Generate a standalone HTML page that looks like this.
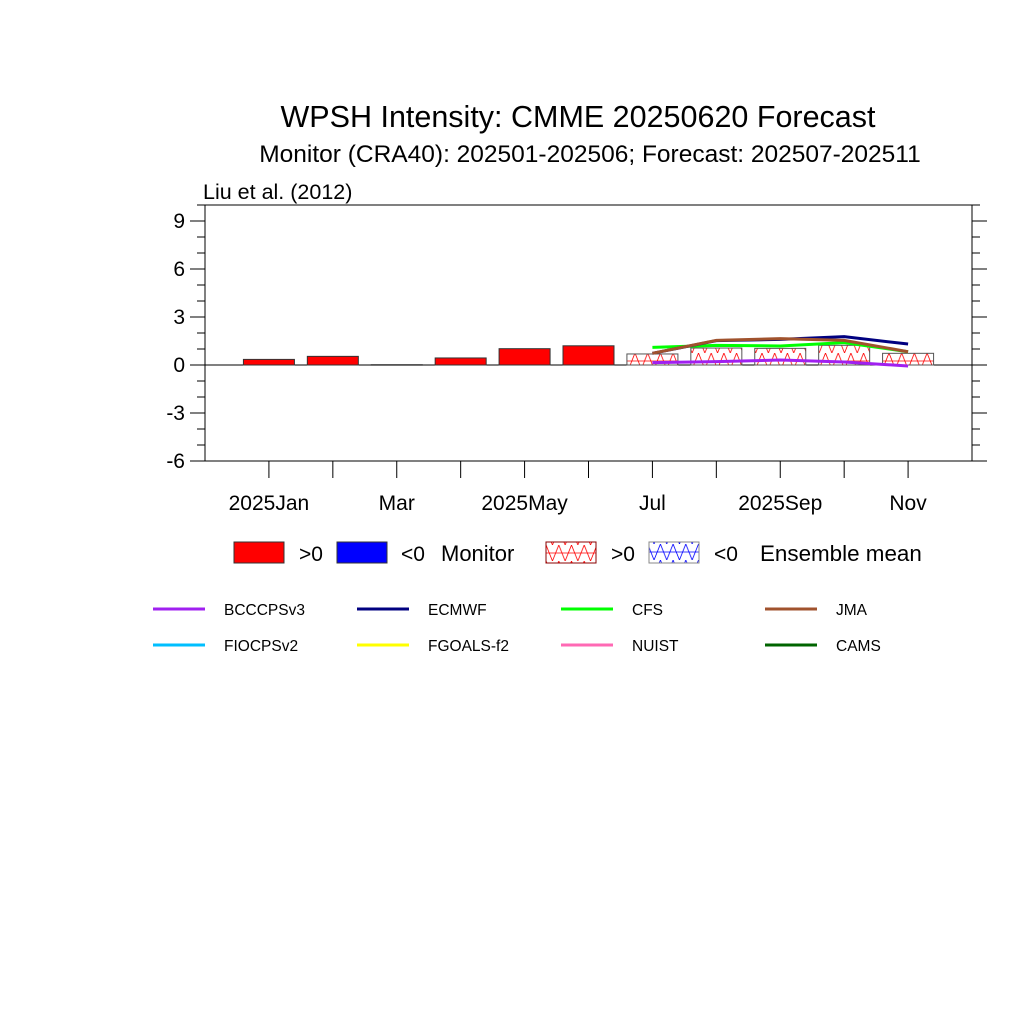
<!DOCTYPE html>
<html><head><meta charset="utf-8"><style>
html,body{margin:0;padding:0;background:#fff;}
svg{display:block;font-family:"Liberation Sans",sans-serif;}
</style></head><body>
<svg id="chart" width="1024" height="1024" viewBox="0 0 1024 1024">
<defs>
<pattern id="hr" width="12.7" height="16" patternUnits="userSpaceOnUse" y="1">
<path d="M0,0 L6.35,16 L12.7,0 M0,8 H12.7" stroke="#f00" stroke-width="0.8" fill="none"/>
</pattern>
<pattern id="hb" width="12.7" height="16" patternUnits="userSpaceOnUse">
<path d="M0,0 L6.35,16 L12.7,0 M0,8 H12.7" stroke="#00f" stroke-width="0.8" fill="none"/>
</pattern>
</defs>
<text x="578" y="127" font-size="30.5" text-anchor="middle">WPSH Intensity: CMME 20250620 Forecast</text>
<text x="590" y="162" font-size="24.5" text-anchor="middle">Monitor (CRA40): 202501-202506; Forecast: 202507-202511</text>
<text x="203" y="199" font-size="21.5">Liu et al. (2012)</text>
<g id="plot"></g>
<g id="legend"></g>
</svg>
<script>
const monLabels=["2025Jan","Mar","2025May","Jul","2025Sep","Nov"];
const monLabelIdx=[1,3,5,7,9,11];
const yTicks=[-6,-3,0,3,6,9];
const monitorMonths=[1,2,3,4,5,6];
const monitorValues=[0.35,0.54,0.02,0.44,1.02,1.2];
const fcMonths=[7,8,9,10,11];
const ensMean=[0.69,1.06,1.04,1.23,0.73];
const bccValues=[0.15,0.21,0.31,0.19,-0.06];
const ecmwfValues=[0.73,1.52,1.6,1.77,1.31];
const cfsValues=[1.1,1.23,1.19,1.4,0.83];
const jmaValues=[0.73,1.54,1.65,1.54,0.83];
const modelNames=["BCCCPSv3","ECMWF","CFS","JMA","FIOCPSv2","FGOALS-f2","NUIST","CAMS"];
const modelColors=["#a020f0","#000080","#00ff00","#a0522d","#00bfff","#ffff00","#ff69b4","#006400"];

const NS="http://www.w3.org/2000/svg";
const X0=205,X1=972,Y0=205,Y1=461;
const xs=m=>X0+(m)*(X1-X0)/12;
const ys=v=>Y1-(v+6)*(Y1-Y0)/16;
const plot=document.getElementById('plot');
function mk(tag,attrs,parent){const e=document.createElementNS(NS,tag);for(const k in attrs)e.setAttribute(k,attrs[k]);(parent||plot).appendChild(e);return e;}

const frame=mk('rect',{x:X0,y:Y0,width:X1-X0,height:Y1-Y0,fill:'none',stroke:'#000','stroke-width':1});


const zl=mk('line',{x1:X0,x2:X1,y1:ys(0),y2:ys(0),stroke:'#000','stroke-width':1});


for(let v=-6;v<=10;v++){
  const major=v%3===0;const L=major?15:8;
  mk('line',{x1:X0-L,x2:X0,y1:ys(v),y2:ys(v),stroke:'#000'});
  mk('line',{x1:X1,x2:X1+L,y1:ys(v),y2:ys(v),stroke:'#000'});
}
yTicks.forEach(v=>{const t=mk('text',{x:X0-20,y:ys(v)+7,'font-size':21,'text-anchor':'end'});t.textContent=v;

});
for(let m=1;m<=11;m++){mk('line',{x1:xs(m),x2:xs(m),y1:Y1,y2:Y1+17,stroke:'#000'});}
monLabels.forEach((l,i)=>{const t=mk('text',{x:xs(monLabelIdx[i]),y:510,'font-size':21,'text-anchor':'middle'});t.textContent=l;

});
const bw=51;
monitorValues.forEach((v,i)=>{const m=monitorMonths[i];const top=Math.min(ys(v),ys(0));
const r=mk('rect',{x:xs(m)-bw/2,y:top,width:bw,height:Math.max(Math.abs(ys(v)-ys(0)),0.5),fill:v>=0?'#f00':'#00f',stroke:'#333','stroke-width':1});

});
ensMean.forEach((v,i)=>{const m=fcMonths[i];const top=Math.min(ys(v),ys(0));
const r=mk('rect',{x:xs(m)-bw/2,y:top,width:bw,height:Math.abs(ys(v)-ys(0)),fill:v>=0?'url(#hr)':'url(#hb)',stroke:'#555','stroke-width':1});

});
const series=[[bccValues,0],[cfsValues,2],[ecmwfValues,1],[jmaValues,3]];
series.forEach(([vals,ci])=>{const pts=vals.map((v,i)=>xs(fcMonths[i])+','+ys(v)).join(' ');
const p=mk('polyline',{points:pts,fill:'none',stroke:modelColors[ci],'stroke-width':3});

});

const lg=document.getElementById('legend');
function lt(x,y,s,txt,name){const t=mk('text',{x:x,y:y,'font-size':s},lg);t.textContent=txt;

}
const items=[[234,'#f00','none'],[337,'#00f','none'],[546,'url(#hr)','#800'],[649,'url(#hb)','#888']];
items.forEach(([x,f,s],i)=>{const r=mk('rect',{x:x,y:542,width:50,height:21,fill:f,stroke:s==='none'?'#333':s},lg);

});
lt(299,561,21,'>0','legend-monitor-pos');lt(401,561,21,'<0','legend-monitor-neg');lt(441,561,22,'Monitor','legend-monitor');
lt(611,561,21,'>0','legend-ens-pos');lt(714,561,21,'<0','legend-ens-neg');lt(760,561,22.4,'Ensemble mean','legend-ensemble');
modelNames.forEach((n,i)=>{const col=i%4,row=Math.floor(i/4);const x=153+col*204,y=609+row*36;
const l=mk('line',{x1:x,x2:x+52,y1:y,y2:y,stroke:modelColors[i],'stroke-width':3},lg);


lt(x+71,y+6,15.5,n,'legend-label-'+n.toLowerCase());});
</script>
</body></html>
